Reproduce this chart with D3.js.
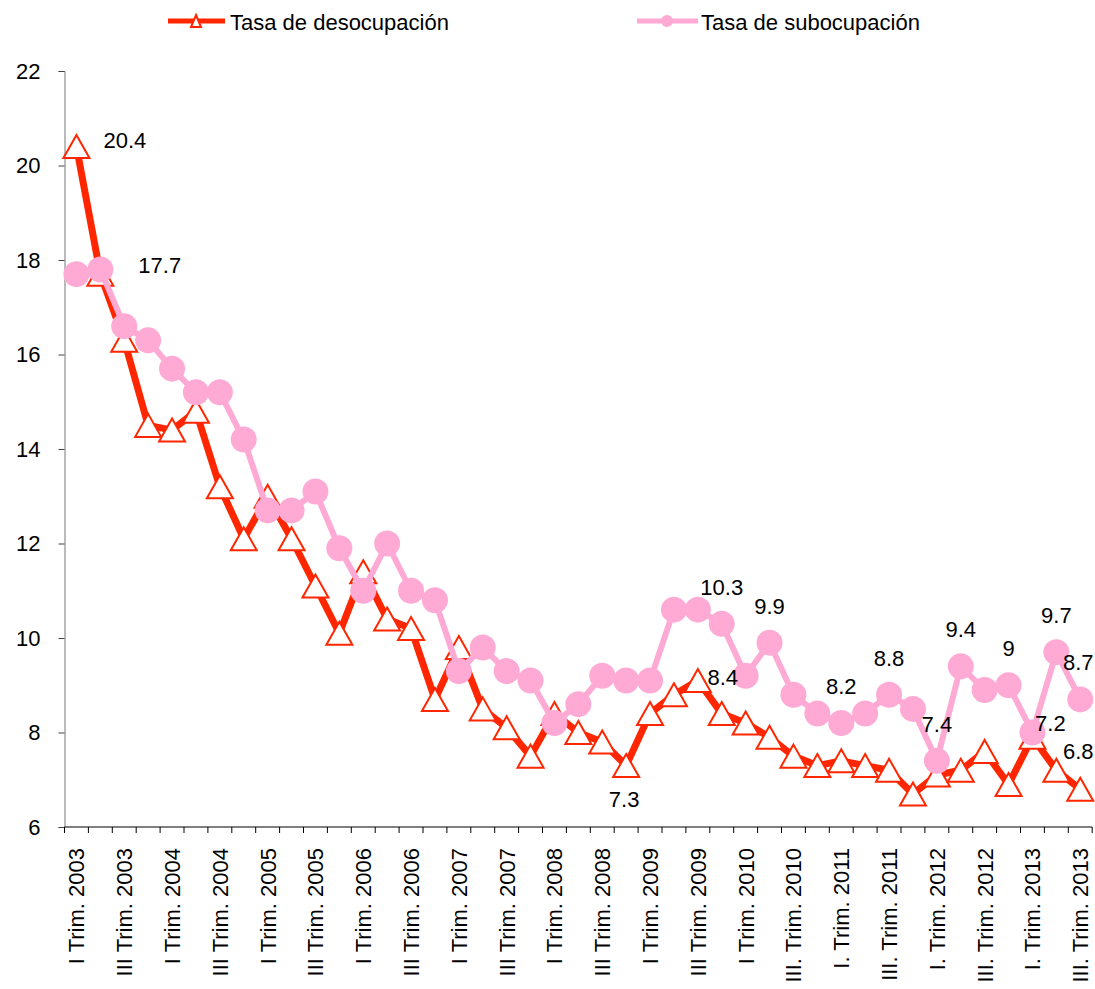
<!DOCTYPE html>
<html>
<head>
<meta charset="utf-8">
<script src="https://cdn.jsdelivr.net/npm/d3@7"></script>
<style>
  body { margin: 0; background: #fff; }
  svg text { font-family: "Liberation Sans", Arial, sans-serif; }
</style>
</head>
<body>
<div id="chart"></div>
<script>
// Quarters from I Trim. 2003 to III Trim. 2013
const years = d3.range(2003, 2014);
const romans = ['I', 'II', 'III', 'IV'];
const quarters = [];
years.forEach(y => romans.forEach((r, q) => {
  if (y === 2013 && q > 2) return;
  quarters.push({ year: y, q: r });
}));

// Axis labels as printed (every other quarter)
const tickLabels = [
  'I Trim. 2003', 'III Trim. 2003', 'I Trim. 2004', 'III Trim. 2004',
  'I Trim. 2005', 'III Trim. 2005', 'I Trim. 2006', 'III Trim. 2006',
  'I Trim. 2007', 'III Trim. 2007', 'I Trim. 2008', 'III Trim. 2008',
  'I Trim. 2009', 'III Trim. 2009', 'I Trim. 2010', 'III. Trim. 2010',
  'I. Trim. 2011', 'III. Trim. 2011', 'I. Trim. 2012', 'III. Trim. 2012',
  'I. Trim. 2013', 'III. Trim. 2013'
];

const desocupacion = [
  20.4, 17.7, 16.3, 14.5, 14.4, 14.8, 13.2, 12.1, 13.0, 12.1,
  11.1, 10.1, 11.4, 10.4, 10.2, 8.7, 9.8, 8.5, 8.1, 7.5,
  8.4, 8.0, 7.8, 7.3, 8.4, 8.8, 9.1, 8.4, 8.2, 7.9,
  7.5, 7.3, 7.4, 7.3, 7.2, 6.7, 7.1, 7.2, 7.6, 6.9,
  7.9, 7.2, 6.8
];

const subocupacion = [
  17.7, 17.8, 16.6, 16.3, 15.7, 15.2, 15.2, 14.2, 12.7, 12.7,
  13.1, 11.9, 11.0, 12.0, 11.0, 10.8, 9.3, 9.8, 9.3, 9.1,
  8.2, 8.6, 9.2, 9.1, 9.1, 10.6, 10.6, 10.3, 9.2, 9.9,
  8.8, 8.4, 8.2, 8.4, 8.8, 8.5, 7.4, 9.4, 8.9, 9.0,
  8.0, 9.7, 8.7
];

const yTicks = [6, 8, 10, 12, 14, 16, 18, 20, 22];

// data labels: which point of which series shows its value
const desoLabels = [0, 1, 23, 27, 41, 42];
const suboLabels = [27, 29, 32, 34, 36, 37, 39, 41, 42];

const width = 1095, height = 989;
const margin = { left: 64.5, top: 71, bottom: 162 };
const plotW = 43 * 23.9;
const fs = 22;

const svg = d3.select('#chart').append('svg')
  .attr('width', width).attr('height', height);

const x = d3.scaleBand()
  .domain(d3.range(quarters.length))
  .range([margin.left, margin.left + plotW]);
const y = d3.scaleLinear().domain([6, 22]).range([height - margin.bottom, margin.top]);
const cx = i => x(i) + x.bandwidth() / 2;

const red = '#ff2600';
const pink = '#ffaad4';

// y axis
const yAxis = svg.append('g')
  .attr('transform', `translate(${margin.left},0)`)
  .call(d3.axisLeft(y).tickValues(yTicks).tickSize(6).tickPadding(18).tickFormat(d3.format('d')));
yAxis.select('.domain').attr('stroke', '#777');
yAxis.selectAll('.tick line').attr('stroke', '#444');
yAxis.selectAll('text').attr('font-size', fs).attr('fill', '#000');

// x axis: ticks on band boundaries
const xAxisY = y(6);
const xg = svg.append('g');
xg.append('line')
  .attr('x1', margin.left).attr('x2', margin.left + plotW)
  .attr('y1', xAxisY).attr('y2', xAxisY)
  .attr('stroke', '#000');
xg.selectAll('.xtick').data(d3.range(quarters.length + 1)).enter()
  .append('line')
  .attr('x1', i => margin.left + i * x.bandwidth())
  .attr('x2', i => margin.left + i * x.bandwidth())
  .attr('y1', xAxisY).attr('y2', xAxisY + 6)
  .attr('stroke', '#000');
xg.selectAll('.xlabel').data(tickLabels).enter()
  .append('text')
  .attr('transform', (d, k) => `translate(${cx(k * 2) + 8},${xAxisY + 21}) rotate(-90)`)
  .attr('text-anchor', 'end')
  .attr('font-size', fs)
  .text(d => d);

// lines
const lineGen = d3.line().x((d, i) => cx(i)).y(d => y(d));

const triPath = (w, h) => `M0,${-h / 2}L${w / 2},${h / 2}L${-w / 2},${h / 2}Z`;

svg.append('path').datum(desocupacion)
  .attr('d', lineGen)
  .attr('fill', 'none').attr('stroke', red).attr('stroke-width', 7)
  .attr('stroke-linejoin', 'round');
svg.selectAll('.tri').data(desocupacion).enter()
  .append('path')
  .attr('transform', (d, i) => `translate(${cx(i)},${y(d)})`)
  .attr('d', triPath(26, 23))
  .attr('fill', '#fff').attr('stroke', red).attr('stroke-width', 2);

svg.append('path').datum(subocupacion)
  .attr('d', lineGen)
  .attr('fill', 'none').attr('stroke', pink).attr('stroke-width', 6)
  .attr('stroke-linejoin', 'round');
svg.selectAll('.dot').data(subocupacion).enter()
  .append('circle')
  .attr('cx', (d, i) => cx(i)).attr('cy', d => y(d))
  .attr('r', 13).attr('fill', pink);

// value labels
const fmt = v => String(v);
const desoOffset = {
  0: [27, 1, 'start'], 1: [38, -1, 'start'], 23: [-2, 41, 'middle'],
  27: [1, -29, 'middle'], 41: [-6, -39, 'middle'], 42: [-2, -30, 'middle']
};
svg.selectAll('.dlab').data(desoLabels).enter()
  .append('text')
  .attr('x', i => cx(i) + desoOffset[i][0])
  .attr('y', i => y(desocupacion[i]) + desoOffset[i][1])
  .attr('text-anchor', i => desoOffset[i][2])
  .attr('font-size', fs)
  .text(i => fmt(desocupacion[i]));

svg.selectAll('.slab').data(suboLabels).enter()
  .append('text')
  .attr('x', i => cx(i) + (i === 42 ? -2 : 0))
  .attr('y', i => y(subocupacion[i]) - 29)
  .attr('text-anchor', 'middle')
  .attr('font-size', fs)
  .text(i => fmt(subocupacion[i]));

// legend
const lg = svg.append('g');
lg.append('line').attr('x1', 168).attr('x2', 225).attr('y1', 21).attr('y2', 21)
  .attr('stroke', red).attr('stroke-width', 5);
lg.append('path').attr('transform', 'translate(196,21)').attr('d', triPath(10, 12))
  .attr('fill', '#fff').attr('stroke', red).attr('stroke-width', 2);
lg.append('text').attr('x', 230).attr('y', 30).attr('font-size', fs).text('Tasa de desocupación');

lg.append('line').attr('x1', 637).attr('x2', 698).attr('y1', 21).attr('y2', 21)
  .attr('stroke', pink).attr('stroke-width', 5);
lg.append('circle').attr('cx', 667).attr('cy', 21).attr('r', 6).attr('fill', pink);
lg.append('text').attr('x', 701).attr('y', 30).attr('font-size', fs).text('Tasa de subocupación');
</script>
</body>
</html>
